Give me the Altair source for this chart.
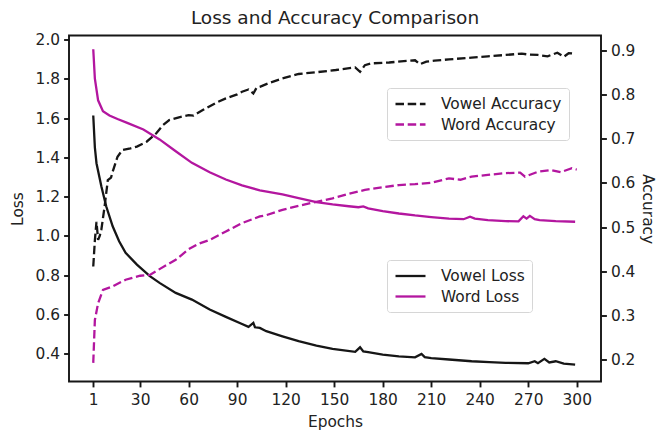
import altair as alt
import pandas as pd

FONT = "DejaVu Sans"
BLACK = "#161616"
MAGENTA = "#b3169f"
TEXT = "#222222"
DASH = [8.5, 3.7]
LW = 2.3

x_ticks = [1, 30, 60, 90, 120, 150, 180, 210, 240, 270, 300]
loss_ticks = [0.4, 0.6, 0.8, 1.0, 1.2, 1.4, 1.6, 1.8, 2.0]
acc_ticks = [0.2, 0.3, 0.4, 0.5, 0.6, 0.7, 0.8, 0.9]

vowel_loss_epochs = [1, 2, 3, 6, 9, 13, 17, 21, 28, 36, 42, 52, 62, 73, 83, 93, 97, 100, 101,
                     104, 108, 118, 128, 139, 149, 163, 166, 168, 171, 180, 190, 200, 204, 206,
                     210, 221, 235, 246, 256, 270, 274, 276, 280, 283, 287, 292, 299]
vowel_loss = [1.613, 1.45, 1.37, 1.253, 1.151, 1.049, 0.973, 0.914, 0.854, 0.795, 0.761, 0.710,
              0.676, 0.625, 0.588, 0.552, 0.537, 0.557, 0.535, 0.532, 0.515, 0.489, 0.464, 0.442,
              0.425, 0.410, 0.433, 0.412, 0.408, 0.396, 0.387, 0.382, 0.399, 0.383, 0.378, 0.371,
              0.362, 0.358, 0.354, 0.352, 0.362, 0.352, 0.374, 0.356, 0.362, 0.350, 0.345]

word_loss_epochs = [1, 2, 4, 7, 11, 16, 22, 32, 42, 52, 62, 73, 83, 93, 104, 118, 128, 139, 149,
                    159, 165, 168, 171, 180, 190, 200, 210, 221, 230, 234, 237, 245, 256, 264,
                    267, 269, 271, 274, 277, 287, 299]
word_loss = [1.95, 1.80, 1.69, 1.635, 1.613, 1.595, 1.575, 1.542, 1.491, 1.431, 1.372, 1.324,
             1.287, 1.257, 1.232, 1.211, 1.192, 1.172, 1.160, 1.151, 1.146, 1.150, 1.140, 1.126,
             1.114, 1.104, 1.096, 1.088, 1.085, 1.098, 1.088, 1.080, 1.075, 1.074, 1.100, 1.088,
             1.102, 1.085, 1.080, 1.075, 1.072]

vowel_acc_epochs = [1, 2, 3, 4, 5, 6, 8, 10, 12, 13, 16, 19, 24, 28, 34, 40, 44, 48, 54, 60, 63,
                    69, 77, 83, 90, 93, 97, 100, 102, 104, 110, 118, 128, 139, 151, 163, 166, 169,
                    173, 184, 196, 200, 203, 207, 212, 221, 235, 245, 256, 266, 270, 276, 282,
                    288, 292, 295, 299]
vowel_acc = [0.411, 0.470, 0.512, 0.471, 0.480, 0.494, 0.546, 0.606, 0.612, 0.625, 0.659, 0.674,
             0.678, 0.682, 0.693, 0.712, 0.730, 0.742, 0.748, 0.753, 0.752, 0.765, 0.781, 0.791,
             0.800, 0.806, 0.811, 0.802, 0.815, 0.817, 0.826, 0.836, 0.846, 0.850, 0.855, 0.861,
             0.851, 0.866, 0.870, 0.872, 0.876, 0.877, 0.868, 0.874, 0.876, 0.879, 0.883, 0.886,
             0.889, 0.892, 0.890, 0.889, 0.886, 0.894, 0.885, 0.893, 0.892]

word_acc_epochs = [1, 2, 4, 7, 13, 21, 30, 36, 42, 52, 60, 66, 73, 83, 93, 104, 108, 118, 128,
                   139, 149, 159, 169, 180, 190, 200, 210, 221, 228, 235, 245, 256, 265, 268,
                   276, 284, 290, 297, 300]
word_acc = [0.193, 0.290, 0.328, 0.358, 0.366, 0.381, 0.390, 0.392, 0.405, 0.426, 0.450, 0.462,
            0.471, 0.490, 0.509, 0.524, 0.527, 0.539, 0.548, 0.557, 0.565, 0.575, 0.584, 0.590,
            0.595, 0.597, 0.600, 0.610, 0.607, 0.614, 0.618, 0.622, 0.623, 0.614, 0.625, 0.629,
            0.624, 0.633, 0.630]


def frame(epochs, values, name):
    return pd.DataFrame({"epoch": epochs, "value": values, "series": name})


loss_df = pd.concat([frame(vowel_loss_epochs, vowel_loss, "Vowel Loss"),
                     frame(word_loss_epochs, word_loss, "Word Loss")])
acc_df = pd.concat([frame(vowel_acc_epochs, vowel_acc, "Vowel Accuracy"),
                    frame(word_acc_epochs, word_acc, "Word Accuracy")])

x_enc = alt.X("epoch:Q",
              scale=alt.Scale(domain=[-14, 315], nice=False, zero=False),
              axis=alt.Axis(values=x_ticks, title="Epochs", titlePadding=6, labelPadding=6,
                            labelFlush=False))

legend_common = dict(title=None, orient="none", symbolType="M-1,0H3", symbolSize=225,
                     symbolStrokeWidth=LW, labelFont=FONT, labelFontSize=15.4,
                     labelColor=TEXT, fillColor="white", strokeColor="#d6d6d6",
                     cornerRadius=3, padding=7, labelOffset=29, rowPadding=2.5)

loss = alt.Chart(loss_df).mark_line(strokeWidth=LW).encode(
    x=x_enc,
    y=alt.Y("value:Q",
            scale=alt.Scale(domain=[0.259, 2.020], nice=False, zero=False),
            axis=alt.Axis(values=loss_ticks, format=".1f", title="Loss", orient="left",
                          titlePadding=10)),
    color=alt.Color("series:N",
                    scale=alt.Scale(domain=["Vowel Loss", "Word Loss"], range=[BLACK, MAGENTA]),
                    legend=alt.Legend(legendX=318, legendY=224.5, **legend_common)),
)

acc = alt.Chart(acc_df).mark_line(strokeWidth=LW, strokeDash=DASH).encode(
    x=x_enc,
    y=alt.Y("value:Q",
            scale=alt.Scale(domain=[0.151, 0.933], nice=False, zero=False),
            axis=alt.Axis(values=acc_ticks, format=".1f", title="Accuracy", orient="right",
                          titlePadding=5)),
    color=alt.Color("series:N",
                    scale=alt.Scale(domain=["Vowel Accuracy", "Word Accuracy"],
                                    range=[BLACK, MAGENTA]),
                    legend=alt.Legend(legendX=318, legendY=52.5, symbolDash=DASH, **legend_common)),
)

chart = alt.layer(loss, acc).resolve_scale(
    y="independent", color="independent"
).properties(
    width=532, height=346,
    background="white",
    title=alt.Title("Loss and Accuracy Comparison", font=FONT, fontSize=18.5,
                    fontWeight="normal", color=TEXT, anchor="middle", offset=5),
    autosize=alt.AutoSizeParams(type="none"),
    padding={"left": 69, "top": 35.5, "right": 56, "bottom": 48},
).configure_view(
    stroke=BLACK, strokeWidth=1.9
).configure_axis(
    grid=False, domain=False, tickColor=BLACK, tickWidth=1.9, tickSize=5.4,
    labelFont=FONT, labelFontSize=15.4, labelColor=TEXT, labelPadding=4,
    titleFont=FONT, titleFontSize=15.4, titleColor=TEXT, titleFontWeight="normal"
)

chart.save("out.html", embed_options={"renderer": "svg", "actions": False})
